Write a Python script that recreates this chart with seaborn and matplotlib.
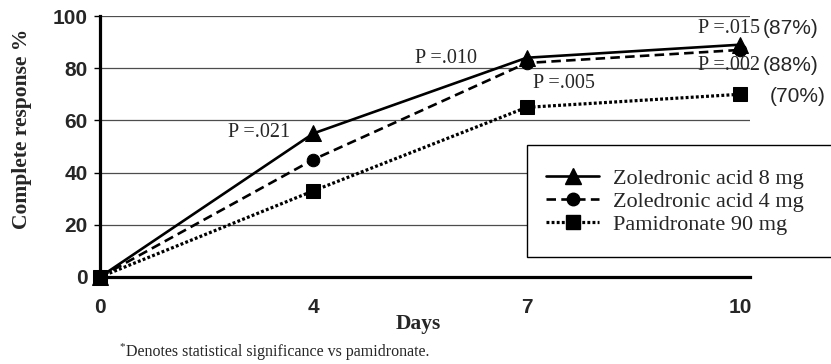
import numpy as np
import matplotlib
matplotlib.use("Agg")
import matplotlib.pyplot as plt
from matplotlib.lines import Line2D
from matplotlib.patches import Rectangle
import seaborn as sns

# -------------------------------------------------
# Data
# -------------------------------------------------
days = ["0", "4", "7", "10"]
zol8 = [0, 55, 84, 89]
zol4 = [0, 45, 82, 87]
pam90 = [0, 33, 65, 70]

series_names = ["Zoledronic acid 8 mg", "Zoledronic acid 4 mg", "Pamidronate 90 mg"]
p_labels = ["P =.021", "P =.010", "P =.005", "P =.015", "P =.002"]
pct_labels = ["(87%)", "(88%)", "(70%)"]

SERIF = "Liberation Serif"
SANS = "Liberation Sans"

sns.set_style("white")
plt.rcParams["font.family"] = [SERIF, "DejaVu Serif"]

fig = plt.figure(figsize=(8.31, 3.64), dpi=100)
ax = fig.add_axes([100 / 831, 1 - 277 / 364, 650 / 831, 261 / 364])

pos = np.arange(len(days))

styles = [
    dict(marker="^", markersize=12, linestyle="-", linewidth=1.9),
    dict(marker="o", markersize=9, linestyle=(0, (3.6, 2.0)), linewidth=1.9),
    dict(marker="s", markersize=10, linestyle=(0, (0.9, 0.7)), linewidth=2.3),
]

for vals, st in zip([zol8, zol4, pam90], styles):
    sns.lineplot(x=pos, y=vals, ax=ax, color="black",
                 markeredgecolor="black", clip_on=False, zorder=3, **st)

ax.set_xlim(0, 3.047)
ax.set_ylim(0, 100)
ax.set_xticks(pos)
ax.set_xticklabels(days)
ax.set_yticks([0, 20, 40, 60, 80, 100])

ax.yaxis.grid(True, color="0.3", linewidth=0.9)
ax.xaxis.grid(False)
for s in ["top", "right"]:
    ax.spines[s].set_visible(False)
ax.spines["left"].set_linewidth(2.3)
ax.spines["bottom"].set_linewidth(2.3)
ax.spines["left"].set_color("black")
ax.spines["bottom"].set_color("black")

ax.tick_params(axis="y", left=True, length=4, width=1, pad=5, color="black")
ax.tick_params(axis="x", bottom=False, length=0, pad=15)
for lab in ax.get_xticklabels() + ax.get_yticklabels():
    lab.set_fontfamily(SANS)
    lab.set_fontweight("bold")
    lab.set_fontsize(15)

ax.set_ylabel("Complete response %", fontsize=15.5, fontweight="bold")
ax.yaxis.set_label_coords(-0.105, 0.567)
ax.set_xlabel("Days", fontsize=15.5, fontweight="bold")
ax.xaxis.set_label_coords(0.489, -0.14)

# -------------------------------------------------
# P-value annotations
# -------------------------------------------------
p_pos = [(0.745, 55.2), (1.62, 83.9), (2.175, 74.3), (2.95, 95.4), (2.95, 81.2)]
for txt, (x, y) in zip(p_labels, p_pos):
    ax.text(x, y, txt, fontsize=14.5, ha="center", va="center", zorder=4)

pct_pos = [(0.951, 0.923), (0.951, 0.821), (0.96, 0.734)]
for txt, (x, y) in zip(pct_labels, pct_pos):
    fig.text(x, y, txt, fontsize=15, family=SANS, ha="center", va="center")

# -------------------------------------------------
# Legend box
# -------------------------------------------------
box = Rectangle((527 / 831, 1 - 257 / 364), 0.4, 112 / 364,
                transform=fig.transFigure, facecolor="white",
                edgecolor="black", linewidth=1.0, zorder=3)
fig.add_artist(box)

handles = [Line2D([], [], color="black", markeredgecolor="black", **st)
           for st in styles]
leg = fig.legend(handles, series_names, loc="upper left",
                 bbox_to_anchor=(546 / 831, 1 - 168 / 364),
                 frameon=False, fontsize=16, borderpad=0, borderaxespad=0,
                 labelspacing=0.12, handlelength=2.4, handletextpad=0.6)
leg.set_zorder(4)

# footnote
fig.text(119 / 831, 1 - 347 / 364, "*", fontsize=8, ha="left", va="center")
fig.text(126 / 831, 1 - 352 / 364,
         "Denotes statistical significance vs pamidronate.",
         fontsize=11.5, ha="left", va="center")

fig.savefig("out.png", dpi=100)
